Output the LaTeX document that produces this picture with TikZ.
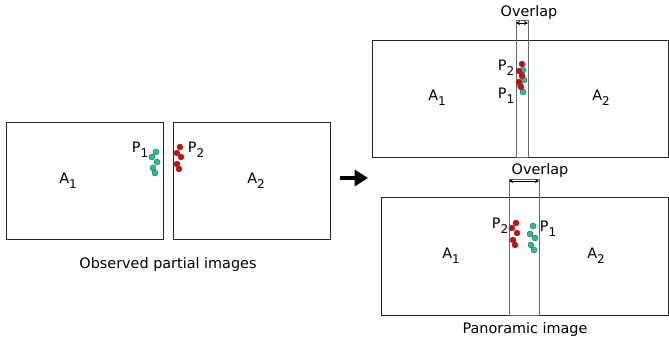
\documentclass[tikz,border=0pt]{standalone}
\usepackage{fontspec}
\setmainfont{DejaVu Sans}
\usetikzlibrary{arrows.meta}
\newcommand\lowidx[1]{\raisebox{-0.6ex}{\small #1}}
\definecolor{dotteal}{RGB}{20,200,150}
\definecolor{dotred}{RGB}{225,0,0}

\begin{document}
\begin{tikzpicture}[x=0.75pt,y=-0.75pt,>=Stealth,
    imgbox/.style={draw=black!85,line width=0.7pt},
    strip/.style={draw=black!60,line width=0.7pt},
    lbl/.style={font=\fontsize{10.8}{12}\selectfont,inner sep=0pt},
    tdot/.style={fill=dotteal,draw=black!70,line width=0.3pt},
    rdot/.style={fill=dotred,draw=black!70,line width=0.3pt}]
        \useasboundingbox (0,0) rectangle (669,344);
        % observed partial images
        \draw[imgbox] (6,122) rectangle (163,239);
        \draw[imgbox] (173,122) rectangle (330,239);
        \node[lbl] (la1) at (68,181) {A\lowidx{1}};
        \node[lbl] (la2) at (256,181) {A\lowidx{2}};
        \node[lbl] (lp1) at (140,150) {P\lowidx{1}};
        \node[lbl] (lp2) at (196,150) {P\lowidx{2}};
        \foreach \x/\y in {156/152,152/157,157/162,153/168,155/173}
            \draw[tdot] (\x,\y) circle (3);
        \foreach \x/\y in {180/147,177/153,181/157,177/164,179/169}
            \draw[rdot] (\x,\y) circle (3);
        \node[lbl] (obs) at (168,265) {Observed partial images};
        % big arrow
        \coordinate (arrS) at (340,178);
        \coordinate (arrE) at (368,178);
        \draw[line width=3.4pt,-{Triangle[length=10pt,width=12pt]}] (arrS) -- (arrE);
        % panorama, small overlap
        \draw[imgbox] (372,40) rectangle (668,157);
        \draw[strip] (516,20) rectangle (528,157);
        \coordinate (ovAl) at (516,23);
        \coordinate (ovAr) at (528,23);
        \draw[<->,line width=0.6pt,>={Stealth[length=3pt,width=3pt]}] (ovAl) -- (ovAr);
        \node[lbl] (ovA) at (529,13) {Overlap};
        \node[lbl] (ta1) at (437,98) {A\lowidx{1}};
        \node[lbl] (ta2) at (601,98) {A\lowidx{2}};
        \node[lbl] (tp2) at (506,68) {P\lowidx{2}};
        \node[lbl] (tp1) at (506,96) {P\lowidx{1}};
        \foreach \x/\y in {523/70,522/75,524/80,520/85,523/92}
            \draw[tdot] (\x,\y) circle (3);
        \foreach \x/\y in {522/64,519/71,522/76,519/82,521/87}
            \draw[rdot] (\x,\y) circle (3);
        % panorama, wide overlap
        \draw[imgbox] (381,197) rectangle (668,315);
        \draw[strip] (509,179) rectangle (539,315);
        \coordinate (ovBl) at (509,181);
        \coordinate (ovBr) at (539,181);
        \draw[<->,line width=0.6pt,>={Stealth[length=3pt,width=3pt]}] (ovBl) -- (ovBr);
        \node[lbl] (ovB) at (540,171) {Overlap};
        \node[lbl] (ba1) at (451,256) {A\lowidx{1}};
        \node[lbl] (ba2) at (596,256) {A\lowidx{2}};
        \node[lbl] (bp2) at (500,226) {P\lowidx{2}};
        \node[lbl] (bp1) at (548,229) {P\lowidx{1}};
        \foreach \x/\y in {533/226,530/234,535/238,531/245,534/250}
            \draw[tdot] (\x,\y) circle (3);
        \foreach \x/\y in {516/223,512/228,517/233,513/240,515/245}
            \draw[rdot] (\x,\y) circle (3);
        \node[lbl] (pan) at (525,330) {Panoramic image};
    \end{tikzpicture}
\end{document}
